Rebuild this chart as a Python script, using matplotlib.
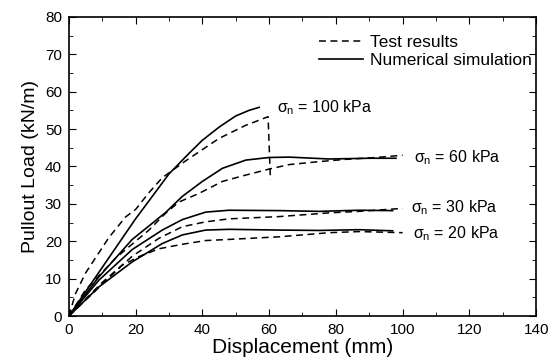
import matplotlib
matplotlib.use('Agg')
import matplotlib.pyplot as plt
from matplotlib.ticker import MultipleLocator

plt.rcParams['font.family'] = ['Liberation Sans', 'DejaVu Sans']
plt.rcParams['mathtext.fontset'] = 'custom'
plt.rcParams['mathtext.rm'] = 'Liberation Sans'
plt.rcParams['mathtext.it'] = 'Liberation Sans'

# test results (dashed)
test_100_x = [0, 2, 5, 12, 17, 20, 24, 28, 35, 45, 53, 59.7, 60.4]
test_100_y = [0, 6, 11.5, 21, 26.5, 28.5, 33, 37, 41.5, 47.5, 51, 53.3, 36.4]
test_60_x = [0, 5, 14, 24, 29, 33, 39, 46, 53, 60, 66, 75, 83, 92, 100]
test_60_y = [0, 7, 15.5, 23, 27.5, 30.5, 32.8, 36, 37.7, 39.3, 40.5, 41.3, 41.9, 42.4, 43]
test_30_x = [0, 10, 19, 27, 34, 41, 48, 63, 78, 87, 100]
test_30_y = [0, 9, 16, 20.8, 23.9, 25.2, 26, 26.6, 27.6, 28, 28.8]
test_20_x = [0, 8, 16, 21, 27, 34, 41, 48, 63, 78, 87, 100]
test_20_y = [0, 6.8, 13.6, 15.9, 18, 19.2, 20.2, 20.5, 21.2, 22.3, 22.6, 22.3]

# numerical simulation (solid)
sim_100_x = [0, 10, 20, 30, 36, 40, 45, 50, 54, 57]
sim_100_y = [0, 13, 26, 38, 43.5, 47, 50.5, 53.5, 55, 55.8]
sim_60_x = [0, 9, 19, 29, 34, 40, 46, 53, 60, 66, 78, 90, 98]
sim_60_y = [0, 10.5, 20.5, 27.7, 32, 36, 39.5, 41.7, 42.4, 42.5, 42, 42.2, 42.2]
sim_30_x = [0, 9, 19, 28, 34, 41, 48, 63, 75, 87, 97]
sim_30_y = [0, 9.6, 17.8, 23, 25.8, 27.8, 28.3, 28.2, 28, 28.3, 28.2]
sim_20_x = [0, 9, 19, 28, 34, 41, 48, 63, 75, 87, 97]
sim_20_y = [0, 7.8, 14.5, 19.4, 21.7, 23, 23.2, 23, 22.9, 23.1, 22.8]

labels = ['100', '60', '30', '20']
label_x = [62.5, 103.5, 102.5, 103]
label_y = [55.6, 42.4, 29.0, 22.0]

fig = plt.figure(figsize=(5.55, 3.58), dpi=100)
ax = fig.add_axes([0.124, 0.117, 0.842, 0.836])

dash = (0, (4.5, 3))
tests = [(test_100_x, test_100_y), (test_60_x, test_60_y),
         (test_30_x, test_30_y), (test_20_x, test_20_y)]
sims = [(sim_100_x, sim_100_y), (sim_60_x, sim_60_y),
        (sim_30_x, sim_30_y), (sim_20_x, sim_20_y)]
for i, (x, y) in enumerate(tests):
    ax.plot(x, y, color='black', lw=1.1, linestyle=dash,
            label='Test results' if i == 0 else None)
for i, (x, y) in enumerate(sims):
    ax.plot(x, y, color='black', lw=1.2,
            label='Numerical simulation' if i == 0 else None)

for lab, lx, ly in zip(labels, label_x, label_y):
    ax.text(lx, ly, r'$\sigma_{\rm n}$ = ' + lab + ' kPa', fontsize=11.5,
            va='center', ha='left')

ax.set_xlim(0, 140)
ax.set_ylim(0, 80)
ax.xaxis.set_major_locator(MultipleLocator(20))
ax.xaxis.set_minor_locator(MultipleLocator(10))
ax.yaxis.set_major_locator(MultipleLocator(10))
ax.yaxis.set_minor_locator(MultipleLocator(5))
ax.tick_params(which='both', direction='in', top=True, right=True,
               labelsize=11, pad=5)
ax.tick_params(which='major', length=5)
ax.tick_params(which='minor', length=3)
for s in ax.spines.values():
    s.set_linewidth(1.2)

ax.set_xlabel('Displacement (mm)', fontsize=15, labelpad=1)
ax.set_ylabel('Pullout Load (kN/m)', fontsize=14, labelpad=4)

ax.legend(loc='upper right', frameon=False, fontsize=12.5, handlelength=2.5,
          handletextpad=0.4, labelspacing=0.15, borderaxespad=0,
          borderpad=0, bbox_to_anchor=(0.99, 0.94))

fig.savefig('out.png', dpi=100)
